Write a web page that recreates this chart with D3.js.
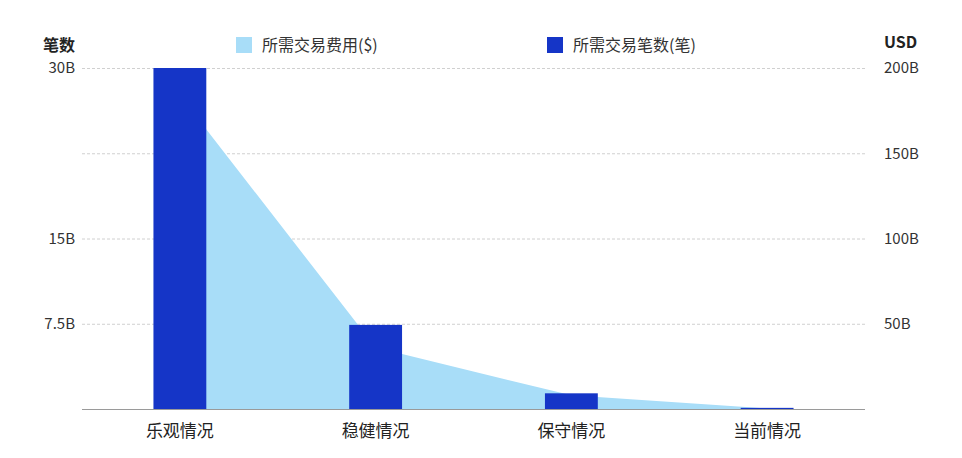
<!DOCTYPE html>
<html>
<head>
<meta charset="utf-8">
<script src="https://cdn.jsdelivr.net/npm/d3@7"></script>
<style>
  body { margin: 0; background: #fff; }
  text { font-family: "Noto Sans CJK SC", "Noto Sans", sans-serif; }
</style>
</head>
<body>
<script>
(function() {
  'use strict';

  var width = 962,
      height = 458,
      margin = {left: 82, right: 97, top: 68, bottom: 49};

  // data
  var categories = ["乐观情况", "稳健情况", "保守情况", "当前情况"];
  var txCount = [30, 7.4, 1.38, 0.1];        // 所需交易笔数, B
  var txFee = [184, 36, 8, 0.3];             // 所需交易费用, B USD
  var leftTicks = [7.5, 15, 30];
  var rightTicks = [50, 100, 150, 200];
  var legendNames = ["所需交易费用($)", "所需交易笔数(笔)"];

  var barColor = "#1535c7",
      areaColor = "#a8ddf8";

  var svg = d3.select("body").append("svg")
      .attr("width", width)
      .attr("height", height);

  var x = d3.scaleBand()
      .domain(categories)
      .range([margin.left, width - margin.right])
      .paddingInner(0.73)
      .paddingOuter(0.365);

  var yL = d3.scaleLinear().domain([0, 30]).range([height - margin.bottom, margin.top]);
  var yR = d3.scaleLinear().domain([0, 200]).range([height - margin.bottom, margin.top]);

  // grid
  svg.append("g").selectAll("line").data(rightTicks).enter()
     .append("line")
     .attr("x1", margin.left)
     .attr("x2", width - margin.right)
     .attr("y1", function(d) { return yR(d) + 0.5; })
     .attr("y2", function(d) { return yR(d) + 0.5; })
     .attr("stroke", "#c4c4c4")
     .attr("stroke-width", 0.8)
     .attr("stroke-dasharray", "3,2");

  // fee area, through band centers
  var area = d3.area()
      .x(function(d, i) { return x(categories[i]) + x.bandwidth() / 2; })
      .y0(yR(0))
      .y1(function(d) { return yR(d); });

  svg.append("path").datum(txFee)
     .attr("d", area)
     .attr("fill", areaColor);

  // bars
  svg.selectAll("rect.bar").data(txCount).enter()
     .append("rect")
     .attr("class", "bar")
     .attr("x", function(d, i) { return x(categories[i]); })
     .attr("y", function(d) { return yL(d); })
     .attr("width", x.bandwidth())
     .attr("height", function(d) { return yL(0) - yL(d); })
     .attr("fill", barColor);

  // baseline
  svg.append("line")
     .attr("x1", margin.left)
     .attr("x2", width - margin.right)
     .attr("y1", yL(0) + 0.5)
     .attr("y2", yL(0) + 0.5)
     .attr("stroke", "#9a9a9a")
     .attr("stroke-width", 1.2);

  // left axis
  var left = d3.axisLeft(yL).tickValues(leftTicks)
      .tickSize(0).tickPadding(7)
      .tickFormat(function(d) { return d + "B"; });
  var gl = svg.append("g").attr("transform", "translate(" + margin.left + ",0)").call(left);
  gl.select(".domain").remove();
  gl.selectAll("text").attr("font-size", 15).attr("fill", "#333")
    .style("font-family", "'Noto Sans CJK SC', sans-serif");

  // right axis
  var right = d3.axisRight(yR).tickValues(rightTicks)
      .tickSize(0).tickPadding(19)
      .tickFormat(function(d) { return d + "B"; });
  var gr = svg.append("g").attr("transform", "translate(" + (width - margin.right) + ",0)").call(right);
  gr.select(".domain").remove();
  gr.selectAll("text").attr("font-size", 15).attr("fill", "#333")
    .style("font-family", "'Noto Sans CJK SC', sans-serif");

  // category axis
  var bottom = d3.axisBottom(x).tickSize(0).tickPadding(16);
  var gb = svg.append("g").attr("transform", "translate(0," + yL(0) + ")").call(bottom);
  gb.select(".domain").remove();
  gb.selectAll("text").attr("font-size", 17).attr("fill", "#222")
    .style("font-family", "'Noto Sans CJK SC', sans-serif");

  // axis titles
  svg.append("text")
     .attr("x", 75).attr("y", 51)
     .attr("text-anchor", "end")
     .attr("font-size", 16).attr("font-weight", "bold").attr("fill", "#222")
     .text("笔数");
  svg.append("text")
     .attr("x", 884).attr("y", 48)
     .attr("font-size", 16).attr("font-weight", "bold").attr("fill", "#222")
     .text("USD");

  // legend
  var legendX = [236, 547],
      legendColors = [areaColor, barColor];
  var lg = svg.selectAll("g.legend").data(legendNames).enter()
     .append("g").attr("class", "legend")
     .attr("transform", function(d, i) { return "translate(" + legendX[i] + ",37)"; });
  lg.append("rect")
     .attr("width", 16).attr("height", 16)
     .attr("fill", function(d, i) { return legendColors[i]; });
  lg.append("text")
     .attr("x", 26).attr("y", 14)
     .attr("font-size", 16).attr("fill", "#333")
     .text(function(d) { return d; });
})()
</script>
</body>
</html>
